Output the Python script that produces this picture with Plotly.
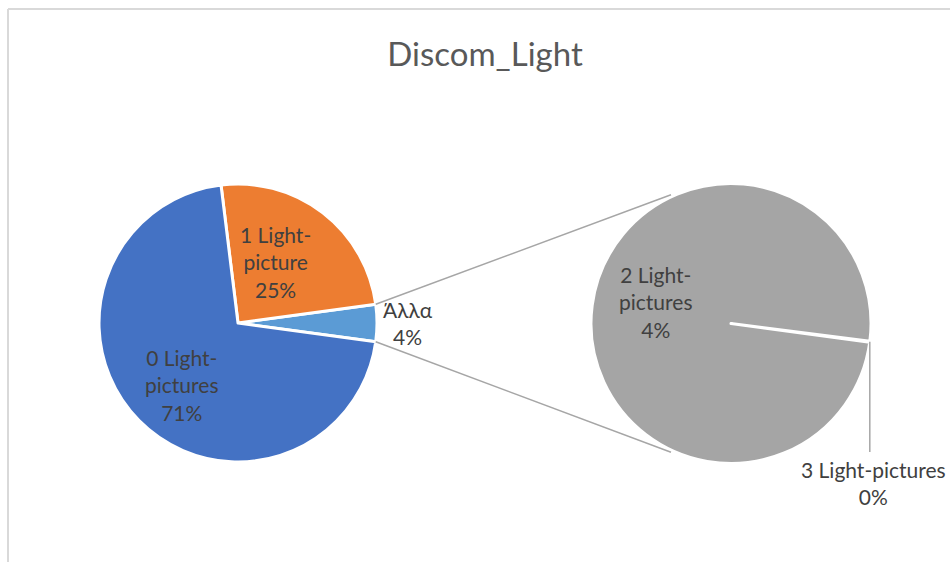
import math
import plotly.graph_objects as go

# Share of images by number of light-pictures (percent)
categories = ["0 Light-pictures", "1 Light-picture", "2 Light-pictures", "3 Light-pictures"]
shares = [70.9, 24.8, 4.295, 0.005]
other_label = "Άλλα"
colors = ["#4472C4", "#ED7D31", "#A5A5A5", "#A5A5A5"]
other_color = "#5B9BD5"

W, H = 950, 562
TEXT = "#404040"
FONT = "Lato"

total = sum(shares)
main_vals = shares[:2]
second_vals = shares[2:]
other_val = sum(second_vals)


def px(x, y):
    """pixel position -> paper coordinates (margins are zero)"""
    return x / W, 1 - y / H


def pct(v):
    return f"{round(v / total * 100)}%"


# Geometry of the two pies (pixels)
c1, r1 = (238.0, 323.0), 139.0
c2, r2 = (731.0, 323.5), 140.0

# Main pie: the "other" slice centred at 3 o'clock, then 1, then 0 going counter-clockwise
other_deg = other_val / total * 360
rot1 = 90 - other_deg / 2

# Second pie: slice "3" placed just below 3 o'clock
sliver_deg = second_vals[1] / other_val * 360
sliver_center = 97.5
rot2 = sliver_center - sliver_deg / 2

fig = go.Figure()
x0, y1 = px(c1[0] - r1, c1[1] - r1)
x1, y0 = px(c1[0] + r1, c1[1] + r1)
fig.add_trace(go.Pie(
    labels=[other_label, categories[1], categories[0]],
    values=[other_val, main_vals[1], main_vals[0]],
    marker=dict(colors=[other_color, colors[1], colors[0]], line=dict(color="white", width=3)),
    sort=False, direction="counterclockwise", rotation=rot1,
    textinfo="none", hoverinfo="label+percent",
    domain=dict(x=[x0, x1], y=[y0, y1]),
    showlegend=False,
))
x0, y1 = px(c2[0] - r2, c2[1] - r2)
x1, y0 = px(c2[0] + r2, c2[1] + r2)
fig.add_trace(go.Pie(
    labels=[categories[3], categories[2]],
    values=[second_vals[1], second_vals[0]],
    marker=dict(colors=[colors[3], colors[2]], line=dict(color="white", width=3)),
    sort=False, direction="counterclockwise", rotation=rot2,
    textinfo="none", hoverinfo="label+percent",
    domain=dict(x=[x0, x1], y=[y0, y1]),
    showlegend=False,
))


def rim(c, r, cw_deg):
    """point on a pie rim, angle measured clockwise from 12 o'clock"""
    a = math.radians(cw_deg)
    return c[0] + r * math.sin(a), c[1] - r * math.cos(a)


shapes = []


def seg(p, q, color="#A6A6A6", width=1.5):
    a, b = px(*p), px(*q)
    shapes.append(dict(type="line", xref="paper", yref="paper",
                       x0=a[0], y0=a[1], x1=b[0], y1=b[1],
                       line=dict(color=color, width=width)))


# Connectors between the "other" slice and the second pie
seg(rim(c1, r1, 90 - other_deg / 2), rim(c2, r2 + 2, -25))
seg(rim(c1, r1, 90 + other_deg / 2), rim(c2, r2 + 2, 205))

# Leader for the "3" slice label
lp = rim(c2, r2, sliver_center)
seg(lp, (lp[0], 452))

# Chart area border
seg((8, 9), (W + 5, 9), color="#D9D9D9", width=2)
seg((8, 9), (8, H + 5), color="#D9D9D9", width=2)

annotations = []


def label(text, x, y, size=21):
    ax, ay = px(x, y)
    annotations.append(dict(text=text, x=ax, y=ay, xref="paper", yref="paper",
                            showarrow=False, xanchor="center", yanchor="middle",
                            align="center", font=dict(family=FONT, size=size, color=TEXT)))


label(f"0 Light-<br>pictures<br>{pct(main_vals[0])}", 181, 385)
label(f"1 Light-<br>picture<br>{pct(main_vals[1])}", 275, 262)
label(f"{other_label}<br>{pct(other_val)}", 408, 323)
label(f"2 Light-<br>pictures<br>{pct(second_vals[0])}", 655, 302)
label(f"{categories[3]}<br>{pct(second_vals[1])}", 873, 483)

fig.update_layout(
    width=W, height=H,
    margin=dict(l=0, r=0, t=0, b=0),
    paper_bgcolor="white", plot_bgcolor="white",
    title=dict(text="Discom_Light", x=485 / W, xanchor="center", y=1 - 54 / H, yanchor="middle",
               font=dict(family=FONT, size=33, color="#595959")),
    shapes=shapes, annotations=annotations,
)

fig.write_html("out.html")
